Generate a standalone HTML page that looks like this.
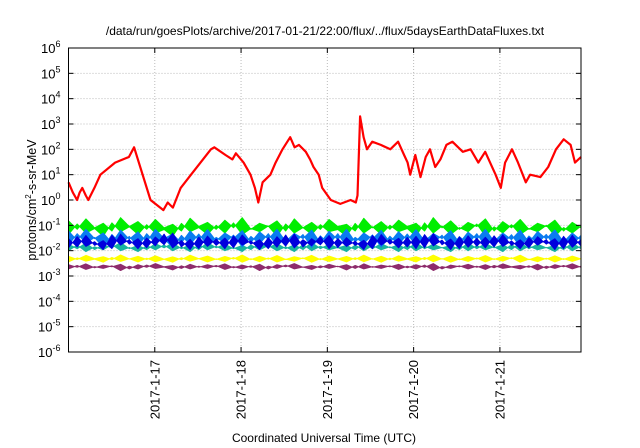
<!DOCTYPE html>
<html><head><meta charset="utf-8"><style>
body{margin:0;background:#fff;}
svg{display:block;font-family:"Liberation Sans",sans-serif;}
</style></head><body>
<svg id="chart" width="640" height="448" xmlns="http://www.w3.org/2000/svg">
<rect width="640" height="448" fill="#fff"/>
<text x="325" y="35" font-size="12" text-anchor="middle">/data/run/goesPlots/archive/2017-01-21/22:00/flux/../flux/5daysEarthDataFluxes.txt</text>
<text x="324" y="442" font-size="12" text-anchor="middle">Coordinated Universal Time (UTC)</text>
<text transform="translate(36,200) rotate(-90)" font-size="12.5" text-anchor="middle">protons/cm<tspan font-size="8" dy="-5">2</tspan><tspan dy="5">-s-sr-MeV</tspan></text>
<g id="grid"></g><g id="series"></g><g id="axes"></g>
</svg>
<script>
const dayTicks=[1,2,3,4,5];
const dayLabels=["2017-1-17","2017-1-18","2017-1-19","2017-1-20","2017-1-21"];
const decadeTicks=[-6,-5,-4,-3,-2,-1,0,1,2,3,4,5,6];
const redDays=[0,.05,.10,.13,.16,.20,.23,.30,.37,.54,.70,.76,.95,1.10,1.15,1.21,1.30,1.42,1.65,1.69,1.82,1.90,1.94,2.03,2.11,2.16,2.20,2.25,2.34,2.40,2.48,2.57,2.62,2.67,2.75,2.80,2.84,2.90,2.94,3.04,3.15,3.27,3.33,3.35,3.38,3.42,3.46,3.52,3.62,3.73,3.82,3.89,3.93,3.96,4.02,4.08,4.14,4.19,4.25,4.31,4.38,4.45,4.57,4.66,4.75,4.83,4.95,5.01,5.06,5.14,5.21,5.30,5.35,5.47,5.56,5.65,5.74,5.82,5.87,5.94];
const redValues=[5,2,1,2,3,1.5,1,3,10,30,50,120,1,0.4,0.8,0.5,3,10,100,120,60,40,70,30,10,3,0.8,5,10,30,100,300,120,150,80,40,20,10,3,1,0.7,1,0.8,1.5,2000,300,100,200,150,100,200,60,30,10,60,8,50,100,20,40,150,200,80,100,30,80,10,3,30,100,30,5,10,8,20,100,250,150,30,50];
const greenValues=[0.15,0.07,0.18,0.08,0.12,0.06,0.2,0.09,0.14,0.07,0.17,0.08,0.11,0.06,0.19,0.09,0.13,0.07,0.16,0.08,0.2,0.07,0.12,0.09,0.15,0.06,0.18,0.08,0.13,0.07,0.17,0.09,0.11,0.06,0.19,0.08,0.14,0.07,0.16,0.09,0.12,0.06,0.2,0.08,0.15,0.07,0.13,0.09,0.18,0.06,0.14,0.08,0.17,0.07,0.12,0.09,0.16,0.06,0.13,0.08];
const lightBlueValues=[0.06,0.025,0.07,0.03,0.05,0.02,0.065,0.028,0.055,0.022,0.07,0.03,0.045,0.02,0.06,0.026,0.068,0.024,0.05,0.03,0.062,0.021,0.055,0.028,0.07,0.023,0.048,0.03,0.065,0.02,0.058,0.027,0.07,0.022,0.05,0.029,0.063,0.021,0.056,0.026,0.068,0.024,0.047,0.03,0.061,0.02,0.054,0.028,0.07,0.023,0.05,0.027,0.064,0.021,0.057,0.029,0.066,0.022,0.05,0.026];
const darkBlueValues=[0.03,0.014,0.04,0.016,0.025,0.012,0.045,0.018,0.03,0.013,0.035,0.017,0.05,0.014,0.028,0.012,0.038,0.016,0.032,0.013,0.042,0.018,0.027,0.012,0.036,0.015,0.046,0.014,0.03,0.017,0.04,0.013,0.033,0.016,0.026,0.012,0.044,0.018,0.031,0.014,0.037,0.013,0.048,0.017,0.029,0.012,0.039,0.015,0.034,0.014,0.043,0.016,0.027,0.013,0.036,0.018,0.03,0.012,0.041,0.015];
const tealValues=[0.018,0.012,0.02,0.011,0.017,0.013,0.021,0.012,0.016,0.011,0.019,0.013,0.02,0.012,0.017,0.011,0.021,0.013,0.018,0.012,0.016,0.011,0.02,0.013,0.019,0.012,0.017,0.011,0.021,0.012,0.018,0.013,0.016,0.011,0.02,0.012,0.019,0.013,0.017,0.011,0.021,0.012,0.018,0.013,0.016,0.011,0.02,0.012,0.019,0.013,0.017,0.011,0.021,0.012,0.018,0.013,0.016,0.011,0.02,0.012];
const yellowValues=[0.006,0.0045,0.0065,0.0048,0.0058,0.0044,0.0068,0.0047,0.006,0.0045,0.0063,0.0046,0.0057,0.0044,0.0066,0.0048,0.0061,0.0045,0.0059,0.0047,0.0067,0.0044,0.006,0.0046,0.0064,0.0045,0.0058,0.0048,0.0065,0.0044,0.0061,0.0047,0.0059,0.0045,0.0066,0.0046,0.006,0.0044,0.0063,0.0048,0.0058,0.0045,0.0067,0.0046,0.0061,0.0044,0.0059,0.0047,0.0064,0.0045,0.006,0.0048,0.0066,0.0044,0.0058,0.0046,0.0063,0.0045,0.0061,0.0047];
const purpleValues=[0.0028,0.0022,0.003,0.0021,0.0027,0.0023,0.0029,0.0019,0.0028,0.0022,0.0031,0.0023,0.0026,0.002,0.0029,0.0022,0.0028,0.0023,0.003,0.0021,0.0027,0.0022,0.0029,0.0019,0.0028,0.0023,0.0031,0.0022,0.0026,0.0021,0.0029,0.0023,0.0028,0.002,0.003,0.0022,0.0027,0.0023,0.0029,0.0021,0.0028,0.0022,0.0031,0.0019,0.0027,0.0023,0.0029,0.0022,0.0028,0.0021,0.003,0.0023,0.0026,0.0022,0.0029,0.002,0.0028,0.0023,0.003,0.0022];
const xDomain=[0,5.94];

const L=68.5,R=581,T=48,B=352;
const NS="http://www.w3.org/2000/svg";
function xs(d){return L+(d-xDomain[0])/(xDomain[1]-xDomain[0])*(R-L);}
function ys(v){return T+(6-Math.log10(v))/12*(B-T);}
function mk(tag,attrs,parent){const e=document.createElementNS(NS,tag);for(const k in attrs)e.setAttribute(k,attrs[k]);parent.appendChild(e);return e;}
const grid=document.getElementById('grid'),axes=document.getElementById('axes'),ser=document.getElementById('series');
decadeTicks.forEach(p=>{const y=ys(Math.pow(10,p));
 if(p>-6&&p<6){const g=mk('line',{x1:L,x2:R,y1:y,y2:y,stroke:'#bbb','stroke-dasharray':'1,2'},grid);
 
 }
 const t=mk('text',{x:L-8,y:y+5,'font-size':'13','text-anchor':'end'},axes);
 
 
 t.innerHTML='10<tspan font-size="9" dy="-6">'+(p<0?'-'+(-p):p)+'</tspan>';
 mk('line',{x1:L,x2:L+5,y1:y,y2:y,stroke:'#000'},axes);
 mk('line',{x1:R,x2:R-5,y1:y,y2:y,stroke:'#000'},axes);
});
dayTicks.forEach((d,i)=>{const x=xs(d);
 const g=mk('line',{x1:x,x2:x,y1:T,y2:B,stroke:'#bbb','stroke-dasharray':'1,2'},grid);
 
 
 mk('line',{x1:x,x2:x,y1:B,y2:B-5,stroke:'#000'},axes);
 mk('line',{x1:x,x2:x,y1:T,y2:T+5,stroke:'#000'},axes);
 const t=mk('text',{transform:'translate('+(x+4.5)+','+(B+8)+') rotate(-90)','font-size':'13','text-anchor':'end'},axes);
 
 
 t.textContent=dayLabels[i];
});
const frame=mk('rect',{x:L,y:T,width:R-L,height:B-T,fill:'none',stroke:'#000','stroke-width':'1'},axes);


function band(vals,color,name,w,ratio){const n=vals.length;
 const xsP=vals.map((v,i)=>xs(xDomain[0]+i*(xDomain[1]-xDomain[0])/(n-1)));
 const top=vals.map((v,i)=>xsP[i].toFixed(1)+','+ys(v).toFixed(1));
 const bot=vals.map((v,i)=>xsP[i].toFixed(1)+','+ys(vals[(i+1)%n]/ratio).toFixed(1)).reverse();
 const pg=mk('polygon',{points:top.concat(bot).join(' '),fill:color,stroke:color,'stroke-width':w,'stroke-linejoin':'round'},ser);
 
 }
band(purpleValues,'#8e2c6c','series-purple',1,1.15);
band(yellowValues,'#ffff00','series-yellow',1,1.25);
band(tealValues,'#19b3a0','series-teal',1,1.2);
band(greenValues,'#00ee00','series-green',1,1.6);
band(lightBlueValues,'#0a7cf0','series-light-blue',1,1.5);
band(darkBlueValues,'#0000dd','series-dark-blue',0.8,1.1);
const rp=redDays.map((d,i)=>xs(d).toFixed(1)+','+ys(redValues[i]).toFixed(1)).join(' ');
const red=mk('polyline',{points:rp,fill:'none',stroke:'#ff0000','stroke-width':2.2,'stroke-linejoin':'round'},ser);


</script>
</body></html>
